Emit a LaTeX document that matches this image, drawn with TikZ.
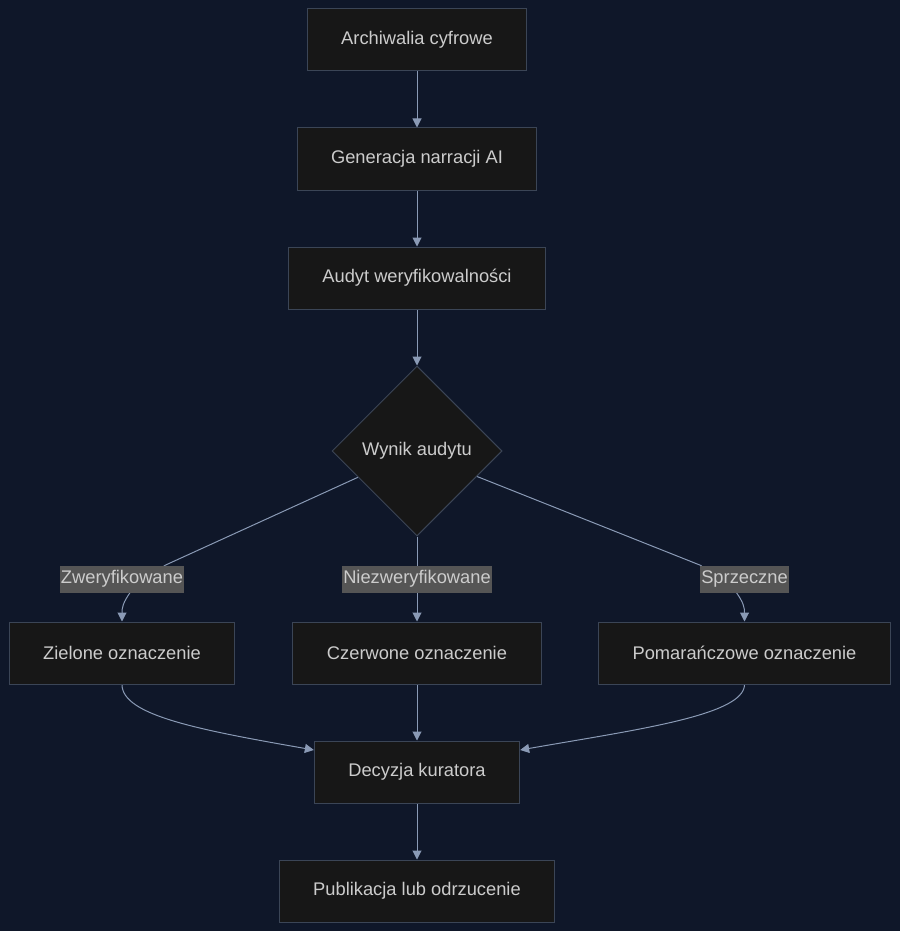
\documentclass[tikz,border=0pt]{standalone}
\usepackage{fontspec}
\setmainfont{Liberation Sans}
\usetikzlibrary{shapes.geometric,arrows.meta}
\definecolor{bgnavy}{HTML}{0F1729}
\definecolor{boxfill}{HTML}{171717}
\definecolor{boxline}{HTML}{3B4556}
\definecolor{edgeline}{HTML}{8A9AB5}
\definecolor{boxtext}{HTML}{CCCCCC}
\definecolor{tagfill}{HTML}{555555}
\pgfdeclarelayer{back}
\pgfdeclarelayer{wires}
\pgfsetlayers{back,wires,main}
\tikzset{
	txt/.style={text=boxtext, font=\fontsize{18.3}{22}\selectfont},
	box/.style={txt, draw=boxline, fill=boxfill, line width=1pt, minimum height=62pt, inner xsep=34pt},
	choice/.style={txt, diamond, draw=boxline, fill=boxfill, line width=1pt, minimum width=170pt, minimum height=170pt, inner sep=0pt},
	tag/.style={txt, fill=tagfill, inner xsep=1pt, inner ysep=0pt, minimum height=27pt},
	edge/.style={draw=edgeline, line width=1pt, -{Triangle[length=9pt,width=9pt]}},
}
\begin{document}
\begin{tikzpicture}[x=1pt,y=-1pt]
				\begin{pgfonlayer}{back}
					\fill[bgnavy] (0,0) rectangle (900,931);
				\end{pgfonlayer}
				\useasboundingbox (0,0) rectangle (900,931);
				\node[box] (arch) at (417,40) {Archiwalia cyfrowe};
				\node[box] (gen) at (417,159) {Generacja narracji AI};
				\node[box] (audit) at (417,278) {Audyt weryfikowalności};
				\node[choice] (result) at (417,451) {Wynik audytu};
				\node[box] (green) at (122,653) {Zielone oznaczenie};
				\node[box] (red) at (417,653) {Czerwone oznaczenie};
				\node[box] (orange) at (744.5,653) {Pomarańczowe oznaczenie};
				\node[box] (curator) at (417,772) {Decyzja kuratora};
				\node[box] (publish) at (417,891) {Publikacja lub odrzucenie};
				\node[tag] (tver) at (122,579) {Zweryfikowane};
				\node[tag] (tunv) at (417,579) {Niezweryfikowane};
				\node[tag] (tcon) at (744.5,579) {Sprzeczne};
				\begin{pgfonlayer}{wires}
					\draw[edge] (arch) -- (gen);
					\draw[edge] (gen) -- (audit);
					\draw[edge] (audit) -- (result);
					\draw[edge] (result.204) -- ([xshift=43pt]tver.north) -- ([xshift=8pt]tver.south) .. controls +(-7,10) and +(0,-14) .. (green.north);
					\draw[edge] (result.south) -- (red.north);
					\draw[edge] (result.-23) -- ([xshift=-44pt]tcon.north) -- ([xshift=-8pt]tcon.south) .. controls +(7,10) and +(0,-14) .. (orange.north);
					\draw[edge] (green.south) .. controls +(0,31) and +(-114,-20) .. ([yshift=22pt]curator.west);
					\draw[edge] (red) -- (curator);
					\draw[edge] (orange.south) .. controls +(0,31) and +(114,-20) .. ([yshift=22pt]curator.east);
					\draw[edge] (curator) -- (publish);
				\end{pgfonlayer}
			\end{tikzpicture}
\end{document}
